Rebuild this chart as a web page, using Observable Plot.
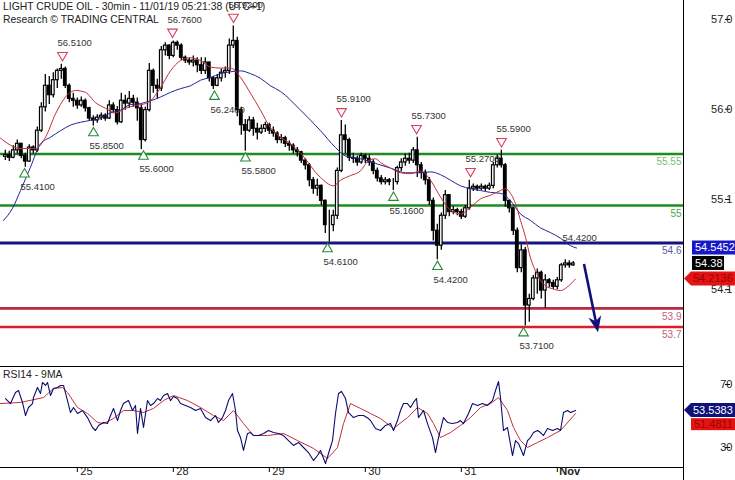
<!DOCTYPE html>
<html><head><meta charset="utf-8">
<script src="https://cdn.jsdelivr.net/npm/d3@7"></script>
<script src="https://cdn.jsdelivr.net/npm/@observablehq/plot@0.6"></script>
<style>
body{margin:0;background:#fff;}
#wrap{position:relative;width:735px;height:480px;overflow:hidden;font-family:"Liberation Sans",Arial,sans-serif;}
#main,#rsi{position:absolute;left:0;}
#main{top:0}#rsi{top:366px}
.ttl{position:absolute;left:3px;font-size:10.4px;color:#222;white-space:nowrap;line-height:13px;}
</style></head><body>
<div id="wrap"><div id="main"></div><div id="rsi"></div>
<div class="ttl" style="top:0px">LIGHT CRUDE OIL - 30min - 11/01/19 05:21:38 (UTC+1)</div>
<div class="ttl" style="top:13px">Research © TRADING CENTRAL</div>
<div class="ttl" style="top:368px;font-size:10.4px">RSI14 - 9MA</div>
</div>
<script>
// ---------- DATA (time axis = trading hours: Oct 25 = 24, Oct 28 = 48, ..., Nov 1 = 144) ----------
const dayTicks = [24, 48, 72, 96, 120, 144];
const dayLabels = ["25", "28", "29", "30", "31", "Nov"];
const priceTicks = [56.99, 56.03, 55.065, 54.1];
const rsiTicks = [70, 30];
const timeDomain = [4.8, 175.55];
const priceDomain = [53.278, 57.1925];
const rsiDomain = [17.3, 81.43];

// hourly candles, first at hour 6
const candleFirstHour = 6;
const candleOpen0 = 55.52;
const candleClose = [55.54,55.51,55.59,55.66,55.53,55.47,55.62,55.59,55.80,56.05,56.28,56.18,56.34,56.44,56.46,56.28,56.14,56.12,56.07,56.12,
56.04,55.93,55.91,55.94,55.96,55.93,56.07,56.02,55.89,56.12,56.09,56.14,56.10,56.04,55.70,56.02,56.44,56.28,56.25,56.66,
56.71,56.60,56.74,56.71,56.58,56.55,56.53,56.55,56.50,56.44,56.53,56.36,56.28,56.36,56.42,56.44,56.71,56.76,56.02,55.86,
55.80,55.91,55.82,55.78,55.82,55.86,55.80,55.77,55.70,55.72,55.66,55.64,55.59,55.57,55.48,55.43,55.27,55.18,55.21,55.05,
54.79,54.79,54.89,55.37,55.75,55.70,55.51,55.50,55.46,55.53,55.50,55.46,55.37,55.29,55.25,55.27,55.25,55.25,55.40,55.46,
55.50,55.48,55.59,55.43,55.35,55.27,55.05,54.73,54.57,54.89,55.11,54.93,54.95,54.93,54.88,54.97,55.18,55.20,55.18,55.20,
55.18,55.21,55.43,55.50,55.43,55.05,54.97,54.73,54.33,54.52,53.93,54.00,54.22,54.28,54.09,54.20,54.17,54.13,54.20,54.36,
54.38,54.36,54.38];
const candleHigh = [55.59,55.58,55.64,55.70,55.66,55.56,55.65,55.64,55.84,56.10,56.40,56.38,56.42,56.46,56.51,56.48,56.30,56.20,56.15,56.16,
56.14,56.05,55.96,55.97,55.99,55.98,56.12,56.10,56.06,56.20,56.18,56.22,56.18,56.15,56.08,56.05,56.52,56.46,56.35,56.70,
56.74,56.72,56.76,56.76,56.73,56.60,56.58,56.60,56.58,56.58,56.58,56.52,56.38,56.40,56.46,56.48,56.78,56.92,56.80,56.05,
55.92,55.95,55.94,55.88,55.86,55.89,55.88,55.84,55.79,55.76,55.74,55.69,55.66,55.62,55.58,55.50,55.45,55.30,55.28,55.22,
55.06,54.95,54.95,55.40,55.91,55.86,55.72,55.56,55.53,55.56,55.55,55.54,55.49,55.40,55.32,55.30,55.29,55.29,55.42,55.50,
55.55,55.56,55.62,55.73,55.46,55.38,55.30,55.08,54.80,54.92,55.16,55.10,54.99,54.97,54.96,55.00,55.27,55.23,55.22,55.23,
55.22,55.24,55.46,55.54,55.59,55.45,55.05,54.98,54.76,54.58,54.55,54.05,54.25,54.32,54.30,54.26,54.22,54.20,54.23,54.38,
54.42,54.41,54.40];
const candleLow = [55.48,55.47,55.50,55.55,55.50,55.41,55.46,55.55,55.57,55.78,56.00,56.08,56.15,56.25,56.35,56.25,56.10,56.05,56.03,56.05,
56.00,55.90,55.85,55.88,55.91,55.90,55.92,55.98,55.86,55.88,56.02,56.04,56.05,55.90,55.60,55.68,56.00,56.20,56.14,56.22,
56.60,56.56,56.58,56.66,56.55,56.52,56.50,56.48,56.42,56.40,56.40,56.32,56.24,56.27,56.32,56.36,56.40,56.68,55.95,55.75,
55.58,55.78,55.74,55.70,55.76,55.78,55.76,55.73,55.66,55.66,55.62,55.58,55.55,55.52,55.45,55.38,55.20,55.12,55.10,55.00,
54.70,54.61,54.72,54.85,55.35,55.55,55.47,55.45,55.42,55.44,55.45,55.42,55.33,55.25,55.22,55.22,55.21,55.16,55.22,55.36,
55.42,55.44,55.45,55.30,55.28,55.22,55.00,54.62,54.42,54.52,54.85,54.88,54.90,54.89,54.85,54.86,54.95,55.15,55.15,55.16,
55.15,55.16,55.18,55.40,55.40,54.98,54.92,54.68,54.28,54.28,53.71,53.75,53.98,54.05,54.00,53.90,54.12,54.10,54.10,54.18,
54.33,54.33,54.35];

// moving averages on price [hour, value]
const maFast = [[4.8,55.72],[9.8,55.61],[13.55,55.61],[16.05,55.73],[18.55,55.98],[21.05,56.16],[23.55,56.23],[26.05,56.21],[28.55,56.10],
[31.05,56.04],[33.55,55.99],[36.05,56.04],[38.55,56.07],[41.05,56.09],[42.3,56.12],[44.8,56.26],[47.3,56.44],[49.8,56.55],[52.3,56.58],
[54.8,56.55],[57.3,56.48],[59.8,56.47],[62.3,56.47],[64.8,56.37],[67.3,56.20],[69.8,56.02],[72.3,55.83],[74.8,55.73],[77.3,55.66],
[79.8,55.56],[84.8,55.30],[88.05,55.21],[89.8,55.27],[92.3,55.32],[94.8,55.37],[96.8,55.48],[98.55,55.50],[99.8,55.46],[102.3,55.40],
[104.8,55.35],[107.3,55.34],[109.8,55.37],[112.3,55.27],[114.8,55.09],[117.3,54.95],[119.8,54.91],[122.3,54.98],[124.8,55.07],
[127.3,55.11],[129.8,55.16],[131.05,55.18],[132.3,55.13],[133.55,55.02],[134.8,54.84],[136.05,54.66],[137.3,54.44],[138.55,54.30],
[139.8,54.20],[141.05,54.14],[142.8,54.11],[144.8,54.09],[146.8,54.14],[148.55,54.2136]];
const maSlow = [[5.55,54.84],[7.8,54.97],[9.8,55.16],[12.3,55.41],[14.8,55.66],[17.3,55.73],[19.8,55.80],[22.3,55.86],[24.8,55.89],
[27.3,55.91],[29.8,55.93],[32.3,55.99],[34.8,56.02],[37.3,56.08],[39.8,56.09],[42.3,56.12],[44.8,56.16],[47.3,56.21],[49.8,56.25],
[52.3,56.28],[54.8,56.34],[57.3,56.37],[59.8,56.41],[62.3,56.43],[64.8,56.44],[67.3,56.41],[69.8,56.36],[72.3,56.28],[74.8,56.22],
[79.8,56.02],[84.8,55.80],[88.55,55.62],[91.05,55.53],[94.8,55.50],[98.55,55.45],[102.3,55.40],[106.05,55.35],[109.8,55.35],
[112.3,55.36],[114.8,55.33],[117.3,55.27],[119.8,55.21],[122.3,55.18],[124.8,55.16],[127.3,55.14],[129.8,55.13],[132.3,55.05],
[134.8,54.91],[137.3,54.84],[139.8,54.76],[142.3,54.71],[144.8,54.65],[147.3,54.57],[148.8,54.5452]];

// support / resistance levels
const levelValues = [55.55, 55, 54.6, 53.9, 53.7];
const levelLabels = ["55.55", "55", "54.6", "53.9", "53.7"];

// pivots
const pivotHighHour = [20.3, 47.8, 63.05, 90.05, 108.8, 122.3, 130.05];
const pivotHighValue = [56.51, 56.76, 56.92, 55.91, 55.73, 55.27, 55.59];
const pivotLowHour = [10.8, 28.05, 40.55, 58.3, 66.05, 86.55, 103.05, 114.05, 135.55];
const pivotLowValue = [55.41, 55.85, 55.60, 56.24, 55.58, 54.61, 55.16, 54.42, 53.71];
const noteHour = 145.3, noteValue = 54.65, noteText = "54.4200";

// projection arrow [hour, value]
const arrowFrom = [150.8, 54.37];
const arrowTo = [154.3, 53.64];

// last values
const lastClose = 54.38, lastSlow = 54.5452, lastFast = 54.2136;
const lastRsi = 53.5383, lastRsiMa = 51.4811;

// RSI 14 and its 9 MA [hour, value]
const rsi = [[6.05,61.1],[7.3,57.9],[8.55,64.9],[9.3,66.2],[10.3,58.6],[11.05,50.3],[11.8,55.4],[12.8,57.9],[13.05,61.7],[14.05,68.1],
[14.8,64.3],[15.3,71.3],[16.05,69.4],[16.55,71.3],[17.3,63.0],[18.05,67.5],[19.05,68.1],[19.8,69.4],[20.55,69.4],[21.55,59.8],
[22.3,52.2],[23.05,55.4],[24.05,51.6],[25.3,53.5],[26.55,49.0],[27.8,42.7],[28.55,40.8],[29.3,44.0],[30.55,45.9],[31.55,45.2],
[32.3,50.3],[33.05,54.8],[34.05,47.1],[34.8,53.5],[35.55,57.9],[36.8,59.8],[37.8,53.5],[38.55,56.7],[39.05,38.9],[39.8,54.8],
[40.55,42.7],[41.55,59.8],[42.3,56.7],[43.05,57.9],[44.05,61.1],[44.8,59.8],[45.55,63.0],[46.55,64.3],[47.3,59.8],[48.05,62.4],
[49.05,61.1],[49.8,57.9],[51.05,56.7],[52.3,55.4],[53.55,53.5],[54.8,54.8],[56.05,49.0],[57.3,47.1],[58.55,50.3],[59.3,45.9],
[60.3,49.0],[61.05,53.5],[61.8,59.8],[62.8,64.3],[63.55,53.5],[64.05,40.8],[64.8,36.3],[65.55,28.1],[66.55,38.9],[67.3,39.5],
[68.05,37.6],[69.3,37.6],[70.55,38.9],[71.8,40.8],[73.05,39.5],[74.3,38.9],[75.55,37.6],[76.8,34.4],[78.05,31.3],[79.3,33.2],
[80.55,30.0],[81.8,26.8],[83.05,21.7],[84.05,24.9],[84.8,28.1],[86.05,19.8],[86.8,26.2],[87.8,34.4],[88.55,51.6],[89.3,64.3],
[90.05,65.6],[91.05,61.1],[91.8,52.2],[93.05,49.0],[94.3,50.3],[95.55,50.3],[96.8,48.4],[97.3,47.1],[98.55,42.1],[99.8,40.8],
[101.05,44.0],[102.3,45.2],[103.05,40.8],[104.05,47.1],[104.8,53.5],[105.55,57.9],[106.55,57.9],[107.3,55.4],[108.05,58.6],[108.8,61.1],
[109.3,49.0],[110.55,53.5],[111.55,45.2],[112.8,36.3],[113.55,26.8],[114.3,36.3],[115.55,49.0],[116.55,45.9],[117.8,45.2],[119.05,45.9],
[119.8,47.1],[120.55,45.2],[121.8,51.6],[122.8,57.9],[124.05,56.7],[125.3,57.9],[126.55,56.7],[127.8,59.8],[128.55,66.2],[129.3,71.9],
[129.8,61.7],[130.55,40.8],[131.55,42.7],[132.8,24.9],[133.55,34.4],[134.3,32.5],[135.55,24.9],[136.55,34.4],[137.3,36.3],[138.05,39.5],
[139.05,40.8],[139.8,39.5],[140.55,37.6],[141.55,42.1],[142.8,40.8],[144.05,42.1],[144.8,40.8],[145.55,52.2],[146.55,53.5],[147.3,52.2],
[148.55,53.5383]];
const rsiMa = [[4.8,57.9],[9.8,58.6],[15.55,61.7],[18.05,67.5],[20.3,68.1],[21.55,64.9],[24.05,55.4],[26.55,51.6],[29.05,45.9],[30.55,45.2],
[33.05,48.4],[35.55,53.5],[38.05,53.5],[40.55,52.2],[43.05,54.8],[45.55,59.8],[48.05,63.0],[51.55,59.8],[54.8,55.4],[58.05,50.3],
[60.55,47.1],[63.05,53.5],[65.55,45.2],[68.05,37.6],[71.55,37.6],[75.55,38.9],[79.05,34.4],[83.05,29.4],[86.55,23.0],[89.05,30.0],
[90.55,45.2],[92.3,57.9],[94.8,54.8],[97.3,51.6],[99.8,48.4],[103.05,42.1],[106.55,49.0],[109.05,55.4],[111.55,51.6],[113.05,45.2],
[114.8,36.3],[117.3,39.5],[119.8,44.0],[122.3,49.0],[124.8,55.4],[127.3,57.9],[129.3,61.7],[131.55,53.5],[133.05,42.7],[134.8,34.4],
[136.55,30.0],[139.05,33.2],[141.55,36.3],[144.8,40.8],[148.55,51.4811]];

// ---------- BUILD ----------
const FONT = "Liberation Sans, Arial, sans-serif";
const candles = candleClose.map((c, i) => {
  const o = i === 0 ? candleOpen0 : candleClose[i - 1];
  return {h: candleFirstHour + i, o, c, hi: Math.max(candleHigh[i], o, c), lo: Math.min(candleLow[i], o, c)};
});
const levelStyle = [
  {stroke: "#1e8c1e", text: "#80bb80", w: 2.6},
  {stroke: "#1e8c1e", text: "#4aa84a", w: 2.6},
  {stroke: "#15157e", text: "#5a5aa6", w: 3},
  {stroke: "#b8283f", text: "#c2607a", w: 2.6},
  {stroke: "#dc1e2c", text: "#c2607a", w: 2.6}
];
const highs = pivotHighHour.map((h, i) => ({h, v: pivotHighValue[i]}));
const lows = pivotLowHour.map((h, i) => ({h, v: pivotLowValue[i]}));

function badge(value, label, {bg, fg, x0, x1 = 735, arrow = false, dy = 0, h = 14}) {
  return (index, scales) => {
    const cy = scales.y(value) + dy;
    const g = d3.create("svg:g");
    if (arrow) {
      g.append("path").attr("fill", bg)
        .attr("d", `M${x0},${cy}L${x0 + 7},${cy - h / 2}H${x1}V${cy + h / 2}H${x0 + 7}Z`);
    } else {
      g.append("rect").attr("fill", bg).attr("x", x0).attr("y", cy - h / 2).attr("width", x1 - x0).attr("height", h);
    }
    g.append("text").attr("x", arrow ? x0 + 9 : x0 + 3).attr("y", cy).attr("dy", "0.36em")
      .attr("text-anchor", "start")
      .attr("fill", fg).attr("font-size", 11).attr("font-family", FONT).text(label);
    return g.node();
  };
}

function arrowMark(index, {x, y}) {
  const x1 = x(arrowFrom[0]), y1 = y(arrowFrom[1]), x2 = x(arrowTo[0]), y2 = y(arrowTo[1]);
  const L = Math.hypot(x2 - x1, y2 - y1), ux = (x2 - x1) / L, uy = (y2 - y1) / L, px = -uy, py = ux;
  const hl = 16, hw = 6.5;
  const bx = x2 - ux * hl, by = y2 - uy * hl;
  const nx = x2 - ux * hl * 0.7, ny = y2 - uy * hl * 0.7;
  const g = d3.create("svg:g");
  g.append("line").attr("x1", x1).attr("y1", y1).attr("x2", nx).attr("y2", ny)
    .attr("stroke", "#10107a").attr("stroke-width", 2.6);
  g.append("path").attr("fill", "#10107a")
    .attr("d", `M${x2},${y2}L${bx + px * hw},${by + py * hw}L${nx},${ny}L${bx - px * hw},${by - py * hw}Z`);
  return g.node();
}

const mainMarks = [];
levelValues.forEach((v, i) => {
  mainMarks.push(Plot.ruleY([v], {stroke: levelStyle[i].stroke, strokeWidth: levelStyle[i].w}));
  mainMarks.push(Plot.text([v], {x: timeDomain[1], y: d => d, text: () => levelLabels[i], textAnchor: "end",
    dx: -2, dy: 8, fill: levelStyle[i].text, fontSize: 10}));
});
mainMarks.push(
  Plot.ruleX(candles, {x: "h", y1: "lo", y2: "hi", stroke: "#000", strokeWidth: 1.3}),
  Plot.rect(candles.filter(d => d.c >= d.o), {x1: d => d.h - 0.33, x2: d => d.h + 0.33, y1: "o", y2: "c", fill: "#fff", stroke: "#000", strokeWidth: 1.2}),
  Plot.rect(candles.filter(d => d.c < d.o), {x1: d => d.h - 0.33, x2: d => d.h + 0.33, y1: "o", y2: "c", fill: "#000", stroke: "#000", strokeWidth: 1.2}),
  Plot.line(maSlow, {x: d => d[0], y: d => d[1], stroke: "#22229a", strokeWidth: 1, curve: "monotone-x"}),
  Plot.line(maFast, {x: d => d[0], y: d => d[1], stroke: "#c4303a", strokeWidth: 1, curve: "monotone-x"}),
  Plot.dot(highs, {x: "h", y: "v", symbol: "triangle", rotate: 180, r: 3.6, stroke: "#d8405c", fill: "#fff", strokeWidth: 1.1, dy: -9}),
  Plot.text(highs, {x: "h", y: "v", text: d => d.v.toFixed(4), dy: -21, dx: -5, textAnchor: "start", fontSize: 9.5, fill: "#333"}),
  Plot.dot(lows, {x: "h", y: "v", symbol: "triangle", r: 3.6, stroke: "#2a8a3a", fill: "#fff", strokeWidth: 1.1, dy: 7}),
  Plot.text(lows, {x: "h", y: "v", text: d => d.v.toFixed(4), dy: 20, dx: -4, textAnchor: "start", fontSize: 9.5, fill: "#333"}),
  Plot.text([noteValue], {x: noteHour, y: d => d, text: () => noteText, textAnchor: "start", fontSize: 9.5, fill: "#333"}),
  arrowMark,
  Plot.ruleX([timeDomain[1]], {stroke: "#000", strokeWidth: 1}),
  Plot.axisY({anchor: "right", ticks: priceTicks, tickSize: 5, tickPadding: 3, tickFormat: d => d.toFixed(1),
    textAnchor: "end", dx: 41, fontSize: 11, fill: "#222"}),
  badge(lastSlow, "54.5452", {bg: "#1818c8", fg: "#fff", x0: 692}),
  badge(lastClose, "54.38", {bg: "#000", fg: "#fff", x0: 692, x1: 724}),
  badge(lastFast, "54.2136", {bg: "#e41414", fg: "#a00000", x0: 684, arrow: true})
);

const mainPlot = Plot.plot({
  width: 735, height: 366, marginLeft: 0, marginRight: 52, marginTop: 0, marginBottom: 0,
  x: {domain: timeDomain, axis: null},
  y: {domain: priceDomain, axis: null},
  style: {fontFamily: FONT, fontSize: "11px", background: "transparent", overflow: "visible"},
  marks: mainMarks
});
document.getElementById("main").appendChild(mainPlot);

function rsiFrame(index, {x}, values, {width, height, marginBottom}) {
  const g = d3.create("svg:g").attr("stroke", "#000").attr("stroke-width", 1);
  const xr = Math.round(x(timeDomain[1])) + 0.5;
  g.append("line").attr("x1", 0).attr("x2", xr).attr("y1", 0.5).attr("y2", 0.5);
  g.append("line").attr("x1", 0).attr("x2", xr).attr("y1", height - marginBottom + 0.5).attr("y2", height - marginBottom + 0.5);
  g.append("line").attr("x1", xr).attr("x2", xr).attr("y1", 0).attr("y2", height);
  return g.node();
}

const rsiPlot = Plot.plot({
  width: 735, height: 114, marginLeft: 0, marginRight: 52, marginTop: 0, marginBottom: 13,
  x: {domain: timeDomain, axis: null},
  y: {domain: rsiDomain, axis: null},
  style: {fontFamily: FONT, fontSize: "11px", background: "transparent", overflow: "visible"},
  marks: [
    Plot.line(rsiMa, {x: d => d[0], y: d => d[1], stroke: "#c4303a", strokeWidth: 1}),
    Plot.line(rsi, {x: d => d[0], y: d => d[1], stroke: "#0c0c70", strokeWidth: 1.1}),
    rsiFrame,
    Plot.axisY({anchor: "right", ticks: rsiTicks, tickSize: 5, tickPadding: 3, tickFormat: d => String(d),
      textAnchor: "end", dx: 41, fontSize: 11, fill: "#222"}),
    Plot.axisX({anchor: "bottom", ticks: dayTicks, tickSize: 5, tickFormat: () => ""}),
    Plot.text(dayTicks.slice(0, 5), {x: d => d, text: (d, i) => dayLabels[i], frameAnchor: "bottom", dy: 7, dx: 3,
      textAnchor: "start", fontSize: 11, fill: "#222"}),
    Plot.text(dayTicks.slice(5), {x: d => d, text: (d, i) => dayLabels[5 + i], frameAnchor: "bottom", dy: 7, dx: 2,
      textAnchor: "start", fontSize: 11, fontWeight: "bold", fill: "#222"}),
    badge(lastRsi, "53.5383", {bg: "#10107a", fg: "#fff", x0: 684, arrow: true}),
    badge(lastRsiMa, "51.4811", {bg: "#e41414", fg: "#a00000", x0: 691, dy: 11, h: 12})
  ]
});
document.getElementById("rsi").appendChild(rsiPlot);
</script>
</body></html>
